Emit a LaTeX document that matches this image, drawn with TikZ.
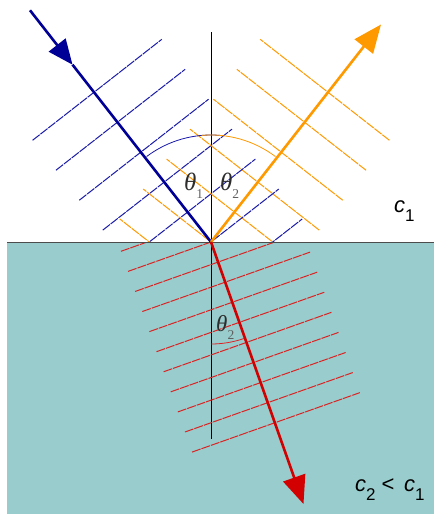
\documentclass[tikz,border=0pt]{standalone}
\usepackage{fontspec}
\setmainfont{Liberation Serif}
\newfontfamily\sansf{Liberation Sans}
\usetikzlibrary{arrows.meta}
\definecolor{waterc}{RGB}{153,204,204}
\definecolor{rayblue}{RGB}{0,0,150}
\definecolor{waveblue}{RGB}{25,25,170}
\definecolor{rayorange}{RGB}{255,153,0}
\definecolor{rayred}{RGB}{210,0,0}
\definecolor{wavered}{RGB}{220,35,35}
\definecolor{labgray}{RGB}{45,45,45}
\definecolor{subgray}{RGB}{95,95,95}
\newcommand\thsub[1]{\raisebox{-8pt}{\fontsize{13.5}{13.5}\selectfont\upshape\color{subgray}#1}}
\newcommand\csub[1]{\raisebox{-9pt}{\fontsize{17}{17}\selectfont\upshape #1}}
\begin{document}
\begin{tikzpicture}[x=1pt,y=-1pt,
  wave/.style={line width=1pt, dash pattern=on 9pt off 1pt},
  ray/.style={line width=2.6pt},
  tipa/.style={-{Triangle[length=25pt,width=21pt]}},
  tipb/.style={-{Triangle[length=28pt,width=23pt]}},
  arcline/.style={line width=0.8pt},
  thlab/.style={anchor=base west, inner sep=0pt, text=labgray, font=\fontsize{25}{25}\selectfont\itshape},
  thlabs/.style={thlab, font=\fontsize{23}{23}\selectfont\itshape},
  clab/.style={anchor=base west, inner sep=0pt, text=black, font=\sansf\fontsize{22}{22}\selectfont}]
\useasboundingbox (0,0) rectangle (434,514);
% medium 2
\fill[waterc] (7,242) rectangle (434,514);
% coordinates
\coordinate (O) at (211,242);
\coordinate (N1) at (211,32);
\coordinate (N2) at (211,439);
\coordinate (L1) at (7,242);
\coordinate (L2) at (434,242);
\coordinate (I0) at (30,10.3);
\coordinate (Im) at (72.5,64.7);
\coordinate (R1) at (381,24.5);
\coordinate (T1) at (303.5,504);
% normal
\draw[black, line width=1pt] (N1) -- (N2);
% incident (blue) and reflected (orange) wavefronts
\begin{scope}
\clip (0,0) rectangle (434,242);
\foreach \k in {-5,...,1}{
  \draw[wave, waveblue]
    ({211+38*(\k)*0.6157-78*0.7880},{242+38*(\k)*0.7880+78*0.6157}) --
    ({211+38*(\k)*0.6157+86*0.7880},{242+38*(\k)*0.7880-86*0.6157});
  \draw[wave, rayorange]
    ({211-38*(\k)*0.6157+78*0.7880},{242+38*(\k)*0.7880+78*0.6157}) --
    ({211-38*(\k)*0.6157-86*0.7880},{242+38*(\k)*0.7880-86*0.6157});
}
\end{scope}
% refracted (red) wavefronts
\begin{scope}
\clip (0,242) rectangle (434,514);
\foreach \k in {-1,...,9}{
  \draw[wave, wavered]
    ({211+21.3*(\k)*0.3338-88*0.9426},{242+21.3*(\k)*0.9426+88*0.3338}) --
    ({211+21.3*(\k)*0.3338+90*0.9426},{242+21.3*(\k)*0.9426-90*0.3338});
}
\end{scope}
% interface
\draw[black!70, line width=1pt] (L1) -- (L2);
% angle arcs
\draw[arcline, waveblue] (O) ++(-85:107) arc[start angle=-85, end angle=-127, radius=107];
\draw[arcline, rayorange] (O) ++(-95:107) arc[start angle=-95, end angle=-53, radius=107];
\draw[arcline, wavered] (O) ++(90:102) arc[start angle=90, end angle=71, radius=102];
% rays
\draw[ray, rayblue, tipa] (I0) -- (Im);
\draw[ray, rayblue] (Im) -- (O);
\draw[ray, rayorange, tipb] (O) -- (R1);
\draw[ray, rayred, tipb] (O) -- (T1);
% labels
\node[thlab] (th1) at (184,190) {θ\thsub{1}};
\node[thlab] (th2) at (220,190) {θ\thsub{2}};
\node[thlabs] (th3) at (216,331) {θ\thsub{2}};
\node[clab] (c1lab) at (394,212) {{\itshape c}\csub{1}};
\node[clab] (c2lab) at (355,491) {{\itshape c}\csub{2}\hspace{6pt}<\hspace{9.5pt}{\itshape c}\csub{1}};
\end{tikzpicture}
\end{document}
